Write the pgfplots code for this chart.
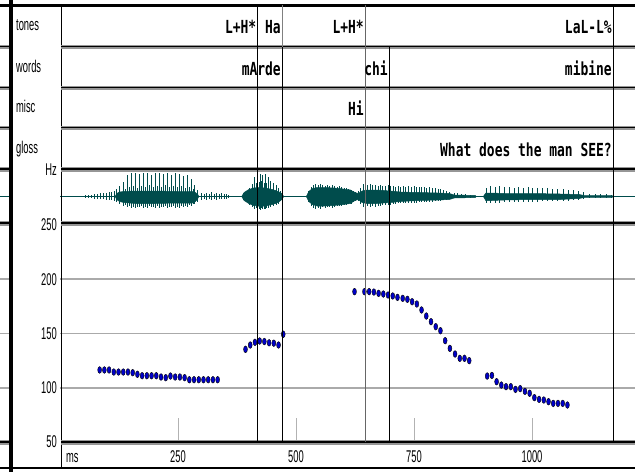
\documentclass[border=0pt]{standalone}
\usepackage{fontspec}
\newfontfamily\tierfont[FakeStretch=0.72]{DejaVu Sans Mono}
\newfontfamily\labfont[FakeStretch=0.55]{Liberation Sans}
\usepackage{pgfplots}
\pgfplotsset{compat=1.18}
\definecolor{wave}{RGB}{0,76,76}
\definecolor{ptfill}{RGB}{0,0,200}
\definecolor{gridgray}{RGB}{170,170,170}
\definecolor{shadow}{RGB}{150,150,150}
\newcommand{\tierf}{\tierfont\bfseries\fontsize{18}{18}\selectfont}
\newcommand{\labf}{\labfont\fontsize{17}{17}\selectfont}

\begin{document}
\begin{tikzpicture}[x=1pt,y=-1pt]
\useasboundingbox (0,0) rectangle (635,472);

% ---------- waveform ----------
\begin{axis}[at={(60pt,-223pt)}, anchor=south west, scale only axis,
  width=575pt, height=53pt, xmin=0, xmax=1218.2, ymin=-26.5, ymax=26.5,
  hide axis]
\addplot[wave, line width=1.2pt] coordinates {(0,0) (1218.2,0)};
\addplot[fill=wave, draw=wave, line width=0.5pt] coordinates {(117,0) (120,3) (126,4.5) (135,5) (160,5.5) (200,5.5) (250,5) (280,5) (287,4) (292,2) (294,0) (292,-2) (287,-5) (280,-6.5) (250,-6.5) (200,-7) (160,-7) (135,-6) (126,-5) (120,-3)} -- cycle;
\addplot[fill=wave, draw=wave, line width=0.5pt] coordinates {(385,0) (390,4) (400,7) (410,8.5) (420,9) (435,8.5) (450,7) (462,5) (470,3) (474,0) (470,-3) (462,-6) (450,-8) (435,-9.5) (420,-9.5) (410,-9) (400,-7) (390,-4)} -- cycle;
\addplot[fill=wave, draw=wave, line width=0.5pt] coordinates {(522,0) (527,5) (535,8) (545,9) (560,9) (580,8.5) (600,7.5) (615,6.5) (625,4) (632,3) (640,5.5) (650,6.5) (670,6.5) (700,5.5) (720,4.5) (760,4) (800,3.5) (825,3) (835,1.5) (880,1) (882,0) (880,-1) (835,-1.5) (825,-3) (800,-3.5) (760,-4) (720,-5) (700,-6) (670,-7) (650,-7) (640,-6) (632,-3) (625,-4) (615,-7) (600,-8) (580,-9) (560,-9.5) (545,-9.5) (535,-8) (527,-5)} -- cycle;
\addplot[fill=wave, draw=wave, line width=0.5pt] coordinates {(897,0) (902,3.5) (915,3.5) (940,3) (1000,3) (1060,2.5) (1100,2) (1110,1) (1170,0.8) (1172,0) (1170,-0.8) (1110,-1) (1100,-2) (1060,-3) (1000,-3) (940,-3.5) (915,-4) (902,-4)} -- cycle;
\addplot[draw=none, mark=none, error bars/.cd, y dir=both, y explicit, error mark=none,
  error bar style={draw=wave, line width=1pt}]
  table[x=t, y expr=0, y error plus=u, y error minus=d] {
t u d
53 2 1
60 2 1
67 2 1
74 3 2
80 3 2
86 4 2
92 4 2
98 4 3
104 5 3
110 5 3
115 6 4
120 8 5
126 11 7
135 15 9
139 8 8
143 22 10
147 10 9
152 24 11
156 11 10
160 24 11
164 9 10
169 23 10
173 11 9
177 24 11
181 10 10
186 24 11
190 12 9
194 22 10
198 10 10
203 24 11
207 11 9
211 24 11
215 10 10
220 23 10
224 12 9
228 24 11
232 10 10
237 22 10
241 11 9
245 24 11
249 10 10
254 23 11
258 11 9
262 21 10
266 9 9
271 22 10
275 10 8
279 18 9
283 8 7
286 12 7
292 7 5
300 4 3
306 3 2
311 4 3
317 3 2
321 5 3
327 3 2
332 4 3
338 3 2
343 4 2
348 3 2
353 3 2
358 2 1
388 4 3
395 6 5
402 9 8
408 13 10
413 20 12
416 14 11
419 24 12
422 15 12
424 23 13
427 16 11
430 22 12
433 14 12
435 23 12
438 14 11
441 20 11
447 16 10
452 14 9
458 12 8
463 9 7
468 6 4
472 3 2
527 6 5
532 10 9
537 12 11
542 13 12
547 12 11
552 13 12
557 12 10
562 11 11
567 12 10
572 11 10
577 12 11
582 11 10
587 10 9
592 11 9
597 10 9
602 9 8
607 9 8
612 8 7
617 7 7
622 6 5
627 5 4
632 6 4
637 9 7
642 13 10
647 13 10
652 12 9
658 13 10
663 12 9
668 12 10
674 11 9
679 12 9
684 11 8
690 11 8
695 12 8
700 11 8
706 11 7
711 10 7
717 11 6
722 10 6
728 11 6
733 10 6
739 11 6
744 10 6
750 11 6
755 10 6
761 10 5
766 10 5
772 10 5
777 9 5
783 10 5
789 9 5
795 9 4
801 8 4
807 8 4
813 7 3
819 6 3
826 5 2
835 4 1
843 4 1
851 3 1
860 3 1
870 2 1
903 9 6
913 11 6
922 10 6
932 11 6
942 10 5
952 10 5
962 9 5
972 10 5
982 9 5
992 10 5
1002 9 5
1012 9 5
1022 9 4
1033 9 4
1044 8 4
1055 8 4
1066 8 4
1077 7 4
1088 7 3
1099 6 3
1110 5 2
1122 3 1
1134 3 1
1146 3 1
1158 3 1
1168 2 1
};
\end{axis}

% ---------- pitch track ----------
\begin{axis}[at={(60pt,-442pt)}, anchor=south west, scale only axis,
  width=575pt, height=217pt, xmin=0, xmax=1218.2, ymin=50, ymax=250,
  axis line style={draw=none},
  xtick={250,500,750,1000}, xtick pos=left, tick align=inside,
  major tick length=24pt, xtick style={draw=gray!60, line width=0.8pt},
  ytick={100,150,200}, extra y ticks={50,250}, extra y tick style={grid=none},
  ytick style={draw=none},
  ymajorgrids, grid style={gridgray, line width=1.8pt},
  ticklabel style={font=\labf},
  /pgf/number format/assume math mode=true,
  /pgf/number format/1000 sep={},
  xticklabel style={anchor=base, yshift=-20pt},
  yticklabel style={anchor=east, inner sep=0pt, xshift=-3pt},
  clip=false]
\addplot[only marks, mark=*, mark size=2.6pt,
  mark options={xscale=0.75, yscale=1.3, fill=ptfill, draw=black, line width=0.4pt}]
  table {
ms hz
84 116.4
94 116.4
104 116.4
114 114.5
124 114.5
134 114.5
144 114.5
154 113.9
164 112.4
174 111.1
184 111.1
194 111.1
204 111.1
214 109.9
224 109.3
234 110.8
244 109.9
254 109.9
264 109.3
274 107.4
284 107.4
294 107.4
304 107.4
314 107.4
324 107.4
334 107.4
393 135.4
403 139.4
413 141.9
423 143.1
433 142.6
443 141.4
453 141.1
463 139.4
473 149.3
624 188.6
645 188.6
655 188.6
665 188.2
675 187.0
685 186.4
695 185.5
705 184.6
715 183.3
726 182.4
736 181.5
746 179.3
756 177.2
766 171.7
776 166.1
786 160.9
796 156.3
806 152.6
816 143.4
826 136.3
837 131.1
847 127.1
857 127.1
867 125.0
905 110.8
915 111.4
925 105.6
935 102.5
945 101.0
955 101.0
965 98.5
975 99.2
985 96.7
995 94.9
1005 90.9
1015 89.3
1025 88.7
1035 87.2
1045 85.6
1055 85.6
1065 85.6
1075 84.1
};
\end{axis}

% ---------- frame lines ----------
\fill[black] (8.5,0) rectangle (12.5,472);
\draw[black, line width=1pt] (61,5) -- (61,468);
\draw[black, line width=3pt] (0,5) -- (635,5);
\foreach \yy in {47,88,128}{
  \draw[shadow, line width=3.4pt] (0,\yy) -- (8.5,\yy) (61,\yy) -- (635,\yy);
  \draw[black, line width=1.6pt] (0,\yy-0.6) -- (8.5,\yy-0.6) (61,\yy-0.6) -- (635,\yy-0.6);
}
\foreach \yy in {169,223,442}{
  \draw[shadow, line width=5pt] (0,\yy) -- (8.5,\yy) (61,\yy) -- (635,\yy);
  \draw[black, line width=2.6pt] (0,\yy) -- (8.5,\yy) (61,\yy) -- (635,\yy);
}
\foreach \yy in {279.25,333.5,387.75}{
  \draw[gridgray, line width=1.8pt] (0,\yy) -- (8.5,\yy);
}
\draw[wave, line width=1.2pt] (0,196.5) -- (8.5,196.5);
\draw[black, line width=1.6pt] (0,468) -- (635,468);

% boundaries
\draw[black, line width=1pt] (257.5,5) -- (257.5,442);
\draw[gray, line width=1pt] (282,5) -- (282,47);
\draw[black, line width=1pt] (282,47) -- (282,442);
\draw[gray!80!black, line width=1pt] (365,5) -- (365,442);
\draw[black, line width=1pt] (389,47) -- (389,442);
\draw[black, line width=1.3pt] (613.3,5) -- (613.3,442);

% ---------- tier labels ----------
\node[anchor=base west, inner sep=0] at (16,30) {\labf tones};
\node[anchor=base west, inner sep=0] at (16,72) {\labf words};
\node[anchor=base west, inner sep=0] at (16,112) {\labf misc};
\node[anchor=base west, inner sep=0] at (16,153) {\labf gloss};
\node[anchor=base east, inner sep=0] at (57,175) {\labf Hz};
\node[anchor=base west, inner sep=0] at (66,462) {\labf ms};

% ---------- tier texts ----------
\node[anchor=base east, inner sep=0] at (256.5,33) {\tierf L+H*};
\node[anchor=base east, inner sep=0] at (281,33) {\tierf Ha};
\node[anchor=base east, inner sep=0] at (364,33) {\tierf L+H*};
\node[anchor=base east, inner sep=0] at (612,33) {\tierf LaL-L\%};
\node[anchor=base east, inner sep=0] at (281,75) {\tierf mArde};
\node[anchor=base east, inner sep=0] at (388,75) {\tierf chi};
\node[anchor=base east, inner sep=0] at (612,75) {\tierf mibine};
\node[anchor=base east, inner sep=0] at (364,115) {\tierf Hi};
\node[anchor=base east, inner sep=0] at (612,156) {\tierf What does the man SEE?};
\end{tikzpicture}
\end{document}
